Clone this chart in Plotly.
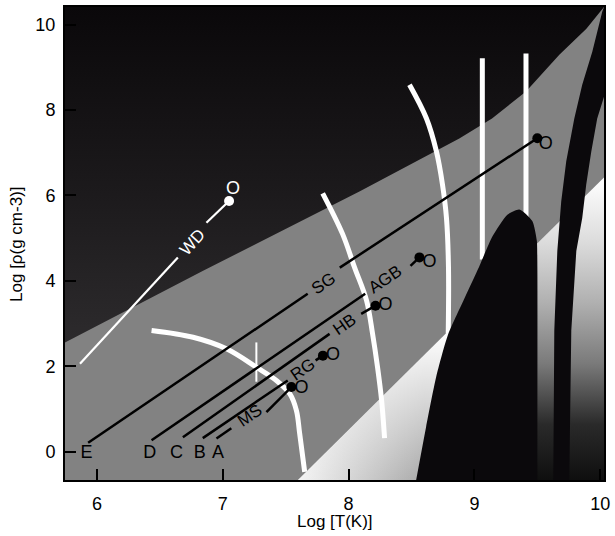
import plotly.graph_objects as go

# ---------------- data ----------------
X_RANGE = [5.746, 10.03]
Y_RANGE = [-0.66, 10.41]
x_ticks = [6, 7, 8, 9, 10]
y_ticks = [0, 2, 4, 6, 8, 10]

# boundary of the degenerate (dark) region
degen_x = [5.746, 6.84, 8.09, 8.88, 9.14, 9.41, 9.675, 9.89, 10.03]
degen_y = [2.56, 4.23, 6.10, 7.33, 7.80, 8.43, 9.29, 9.90, 10.41]

# boundary of the radiation-dominated region
rad_x = [7.595, 10.03]
rad_y = [-0.66, 6.42]

# pair-instability region (black arch)
blob_x = [8.537, 8.616, 8.696, 8.788, 8.915, 9.04, 9.145, 9.262, 9.357, 9.46, 9.496, 9.50, 9.50]
blob_y = [-0.66, 0.58, 1.75, 2.72, 3.55, 4.35, 5.05, 5.55, 5.67, 5.40, 4.94, 4.47, -0.66]

# black band at the right
band_left_x = [10.016, 9.937, 9.857, 9.794, 9.730, 9.690, 9.659, 9.635, 9.627]
band_left_y = [10.30, 9.36, 8.59, 7.80, 6.80, 5.86, 4.70, 2.84, -0.66]
band_right_x = [9.754, 9.770, 9.810, 9.857, 9.889, 9.929, 9.976, 10.03, 10.03]
band_right_y = [-0.66, 2.84, 4.70, 5.47, 6.26, 7.03, 7.80, 8.31, 10.41]

# white burning curves
hburn_x = [6.434, 6.764, 7.029, 7.267, 7.426, 7.532, 7.585, 7.611, 7.651]
hburn_y = [2.84, 2.68, 2.41, 1.98, 1.67, 1.36, 0.97, 0.43, -0.47]
heburn_x = [7.794, 7.952, 8.048, 8.143, 8.19, 8.23, 8.262, 8.286]
heburn_y = [6.05, 5.10, 4.31, 3.54, 2.77, 1.98, 1.21, 0.32]
cburn_x = [8.484, 8.619, 8.698, 8.746, 8.778, 8.794, 8.792]
cburn_y = [8.59, 7.80, 7.03, 6.26, 5.47, 4.31, 2.77]
vert1_x = [9.063, 9.063]
vert1_y = [9.21, 4.5]
vert2_x = [9.41, 9.41]
vert2_y = [9.32, 5.0]
mark_x = [7.267, 7.267]
mark_y = [2.56, 1.64]

# evolutionary tracks: two segments each (gap holds the label)
track_letters = ["E", "D", "C", "B", "A"]
letter_x = [5.917, 6.42, 6.632, 6.817, 6.962]
letter_y = [-0.03, -0.03, -0.03, -0.03, -0.03]

seg1_x0 = [5.93, 6.434, 6.683, 6.841, 6.95]
seg1_y0 = [0.21, 0.27, 0.34, 0.32, 0.31]
seg1_x1 = [7.675, 8.132, 7.849, 7.516, 7.068]
seg1_y1 = [3.70, 3.70, 2.76, 1.67, 0.55]
seg2_x0 = [7.93, 8.492, 8.10, 7.738, 7.347]
seg2_y0 = [4.31, 4.35, 3.23, 2.14, 0.93]
seg2_x1 = [9.50, 8.563, 8.214, 7.796, 7.545]
seg2_y1 = [7.34, 4.55, 3.42, 2.25, 1.515]

phase_labels = ["SG", "AGB", "HB", "RG", "MS"]
phase_x = [7.80, 8.288, 7.968, 7.637, 7.215]
phase_y = [3.95, 4.04, 2.97, 1.93, 0.85]

open_x = [9.568, 8.643, 8.294, 7.876, 7.625]
open_y = [7.19, 4.42, 3.42, 2.25, 1.48]

# white dwarf track
wd_x = [5.865, 6.643, None, 6.87, 7.05]
wd_y = [2.06, 4.55, None, 5.36, 5.87]
wd_label_x, wd_label_y = 6.756, 4.91
wd_open_x, wd_open_y = 7.082, 6.14

# ---------------- figure ----------------
FONT = "Liberation Sans, Arial, Helvetica, sans-serif"
GRAY = "#828282"

fig = go.Figure()

# dark degenerate region
fig.add_trace(go.Scatter(
    x=degen_x + [X_RANGE[0]], y=degen_y + [Y_RANGE[1]],
    fill="toself", mode="lines", line=dict(width=0),
    fillgradient=dict(type="vertical", start=2.5, stop=10.41,
                      colorscale=[[0, "#2d2b2d"], [0.45, "#1c1a1c"], [1, "#0a080a"]]),
    hoverinfo="skip", showlegend=False))

# radiation region (vertical fade)
fig.add_trace(go.Scatter(
    x=rad_x + [X_RANGE[1]], y=rad_y + [Y_RANGE[0]],
    fill="toself", mode="lines", line=dict(width=0),
    fillgradient=dict(type="vertical", start=-0.66, stop=6.42,
                      colorscale=[[0, "#0e0e0e"], [0.19, "#2a2a2a"], [0.39, "#7a7a7a"],
                                  [0.59, "#b0b0b0"], [0.79, "#dcdcdc"], [1, "#ffffff"]]),
    hoverinfo="skip", showlegend=False))

# left part of the radiation region (light)
left_tri_x = [rad_x[0], 8.80, 8.80]
left_tri_y = [rad_y[0], -0.66 + (rad_y[1] - rad_y[0]) / (rad_x[1] - rad_x[0]) * (8.80 - rad_x[0]), -0.66]
fig.add_trace(go.Scatter(
    x=left_tri_x, y=left_tri_y, fill="toself", mode="lines", line=dict(width=0),
    fillgradient=dict(type="horizontal", start=7.6, stop=8.6,
                      colorscale=[[0, "#f4f4f4"], [1, "#a8a8a8"]]),
    hoverinfo="skip", showlegend=False))
fig.add_trace(go.Scatter(
    x=left_tri_x, y=left_tri_y, fill="toself", mode="lines", line=dict(width=0),
    fillgradient=dict(type="vertical", start=-0.66, stop=2.84,
                      colorscale=[[0, "rgba(255,255,255,0)"], [1, "rgba(255,255,255,1)"]]),
    hoverinfo="skip", showlegend=False))

# white burning lines
def wline(xs, ys, w, shape="spline"):
    fig.add_trace(go.Scatter(x=xs, y=ys, mode="lines",
                             line=dict(color="white", width=w, shape=shape),
                             hoverinfo="skip", showlegend=False))

wline(hburn_x, hburn_y, 5)
wline(heburn_x, heburn_y, 5)
wline(cburn_x, cburn_y, 5)
wline(vert1_x, vert1_y, 5, "linear")
wline(vert2_x, vert2_y, 5, "linear")
wline(mark_x, mark_y, 2, "linear")

# black arch and black band
fig.add_trace(go.Scatter(
    x=blob_x, y=blob_y, fill="toself", fillcolor="#0b090c", mode="lines",
    line=dict(width=0, shape="spline", smoothing=0.6),
    hoverinfo="skip", showlegend=False))
fig.add_trace(go.Scatter(
    x=band_left_x + band_right_x, y=band_left_y + band_right_y,
    fill="toself", fillcolor="#0b090c", mode="lines", line=dict(width=0),
    hoverinfo="skip", showlegend=False))

# white dwarf track
fig.add_trace(go.Scatter(x=wd_x, y=wd_y, mode="lines", line=dict(color="white", width=2.2),
                         hoverinfo="skip", showlegend=False))
fig.add_trace(go.Scatter(x=[wd_x[-1]], y=[wd_y[-1]], mode="markers",
                         marker=dict(color="white", size=10), hoverinfo="skip", showlegend=False))
fig.add_trace(go.Scatter(x=[wd_open_x], y=[wd_open_y], mode="text", text=["O"],
                         textfont=dict(color="white", size=18, family=FONT),
                         hoverinfo="skip", showlegend=False))

# black tracks
tx, ty = [], []
for i in range(len(track_letters)):
    tx += [seg1_x0[i], seg1_x1[i], None, seg2_x0[i], seg2_x1[i], None]
    ty += [seg1_y0[i], seg1_y1[i], None, seg2_y0[i], seg2_y1[i], None]
fig.add_trace(go.Scatter(x=tx, y=ty, mode="lines", line=dict(color="black", width=2.5),
                         hoverinfo="skip", showlegend=False))
fig.add_trace(go.Scatter(x=seg2_x1, y=seg2_y1, mode="markers",
                         marker=dict(color="black", size=10), hoverinfo="skip", showlegend=False))
fig.add_trace(go.Scatter(x=open_x, y=open_y, mode="text", text=["O"] * len(open_x),
                         textfont=dict(color="black", size=18, family=FONT),
                         hoverinfo="skip", showlegend=False))
fig.add_trace(go.Scatter(x=letter_x, y=letter_y, mode="text", text=track_letters,
                         textfont=dict(color="black", size=18, family=FONT),
                         hoverinfo="skip", showlegend=False))

annotations = []
for lab, x, y in zip(phase_labels, phase_x, phase_y):
    annotations.append(dict(x=x, y=y, xref="x", yref="y", text=lab, showarrow=False,
                            textangle=-34.6, font=dict(size=17, color="black", family=FONT)))
annotations.append(dict(x=wd_label_x, y=wd_label_y, xref="x", yref="y", text="WD",
                        showarrow=False, textangle=-47.6,
                        font=dict(size=17, color="white", family=FONT)))
annotations.append(dict(x=0.5, y=-0.088, xref="paper", yref="paper", text="Log [T(K)]",
                        showarrow=False, yanchor="middle",
                        font=dict(size=17, color="black", family=FONT)))
annotations.append(dict(x=-0.089, y=0.497, xref="paper", yref="paper", text="Log [ρ(g cm-3)]",
                        showarrow=False, textangle=-90, xanchor="center", yanchor="middle",
                        font=dict(size=17, color="black", family=FONT)))

fig.update_layout(
    width=615, height=536,
    margin=dict(l=65, r=10, t=5, b=56),
    paper_bgcolor="white", plot_bgcolor=GRAY,
    annotations=annotations,
    xaxis=dict(range=X_RANGE, tickvals=x_ticks, ticks="inside", ticklen=11, tickwidth=1.5,
               tickcolor="black", showgrid=False, zeroline=False, showline=True,
               linecolor="black", linewidth=2, mirror=True, ticklabelstandoff=6,
               tickfont=dict(size=18, color="black", family=FONT)),
    yaxis=dict(range=Y_RANGE, tickvals=y_ticks, ticks="inside", ticklen=11, tickwidth=1.5,
               tickcolor="black", showgrid=False, zeroline=False, showline=True,
               linecolor="black", linewidth=2, mirror=True, ticklabelstandoff=4,
               tickfont=dict(size=18, color="black", family=FONT)),
)

fig.write_html("out.html")
